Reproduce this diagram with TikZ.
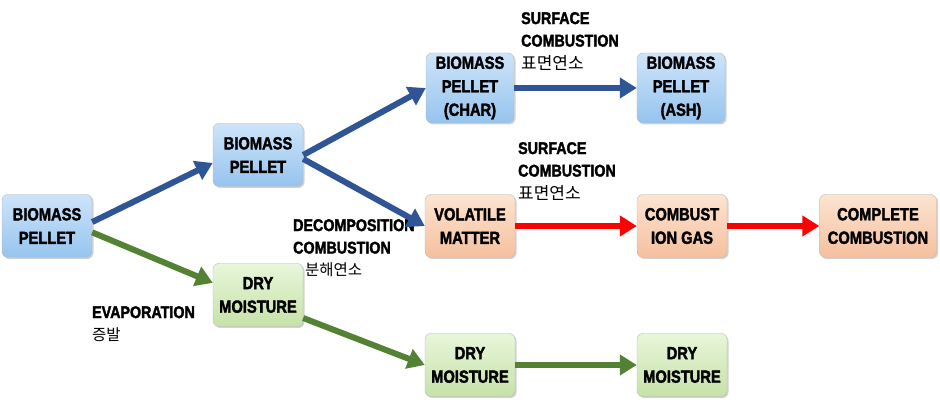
\documentclass[tikz,border=0pt]{standalone}
\usepackage{fontspec}
\setmainfont[FakeStretch=0.84,BoldFeatures={FakeBold=2}]{Liberation Sans}
\newfontfamily\kor{Noto Sans CJK KR}
\usetikzlibrary{arrows.meta,shadows}

\definecolor{boxblueT}{RGB}{205,228,250}
\definecolor{boxblueB}{RGB}{150,196,238}
\definecolor{boxorT}{RGB}{253,228,208}
\definecolor{boxorB}{RGB}{245,192,158}
\definecolor{boxgrT}{RGB}{232,246,218}
\definecolor{boxgrB}{RGB}{198,226,168}
\definecolor{flowblue}{RGB}{47,85,151}
\definecolor{flowred}{RGB}{255,0,0}
\definecolor{flowgreen}{RGB}{84,130,53}

\begin{document}
\begin{tikzpicture}
[x=1pt,y=-1pt,
box/.style={draw=gray!55,rounded corners=6pt,minimum width=90pt,minimum height=63pt,
  align=center,inner sep=2pt,font=\bfseries\fontsize{17.5}{23.5}\selectfont,
  drop shadow={shadow xshift=1.5pt,shadow yshift=-1.5pt,opacity=0.35}},
bluebox/.style={box,top color=boxblueT,bottom color=boxblueB},
orbox/.style={box,top color=boxorT,bottom color=boxorB},
grbox/.style={box,top color=boxgrT,bottom color=boxgrB},
lbl/.style={anchor=north west,align=left,inner sep=0pt,font=\bfseries\fontsize{17}{22.5}\selectfont},
flow/.style={line width=6pt,-{Triangle[length=17pt,width=20pt]}}]
\useasboundingbox (0,0) rectangle (940,403);
% boxes
\node[bluebox] (bp1) at (47,226) {BIOMASS\\PELLET};
\node[bluebox] (bp2) at (258,155) {BIOMASS\\PELLET};
\node[bluebox,minimum width=88pt,minimum height=70pt] (char) at (470,88) {BIOMASS\\PELLET\\(CHAR)};
\node[bluebox,minimum width=88pt,minimum height=70pt] (ash) at (681,88) {BIOMASS\\PELLET\\(ASH)};
\node[orbox] (vol) at (470,226) {VOLATILE\\MATTER};
\node[orbox] (gas) at (682,226) {COMBUST\\ION GAS};
\node[orbox,minimum width=117pt] (comp) at (878,226) {COMPLETE\\COMBUSTION};
\node[grbox] (dm1) at (258,295) {DRY\\MOISTURE};
\node[grbox] (dm2) at (470,365) {DRY\\MOISTURE};
\node[grbox] (dm3) at (682,365) {DRY\\MOISTURE};
% labels
\node[lbl] (sc1) at (521,12) {SURFACE\\COMBUSTION\\{\kor\mdseries 표면연소}};
\node[lbl] (sc2) at (518,142) {SURFACE\\COMBUSTION\\{\kor\mdseries 표면연소}};
\node[lbl] (dc) at (293,219) {DECOMPOSITION\\COMBUSTION};
\node[lbl,font=\kor\fontsize{15.5}{22}\selectfont] (dck) at (305,262) {분해연소};
\node[lbl] (ev) at (92,306) {EVAPORATION\\{\kor\mdseries\fontsize{15.5}{22}\selectfont 증발}};
% arrows
\draw[flow,flowblue] (bp1.5) -- (bp2.190);
\draw[flow,flowblue] (bp2.east) -- (char.west);
\draw[flow,flowblue] (bp2.-5) -- (vol.west);
\draw[flow,flowblue] (char.east) -- (ash.west);
\draw[flow,flowred] (vol.east) -- (gas.west);
\draw[flow,flowred] (gas.east) -- (comp.west);
\draw[flow,flowgreen] (bp1.-8) -- (dm1.165);
\draw[flow,flowgreen] (dm1.-27) -- (dm2.west);
\draw[flow,flowgreen] (dm2.east) -- (dm3.west);
\end{tikzpicture}
\end{document}
